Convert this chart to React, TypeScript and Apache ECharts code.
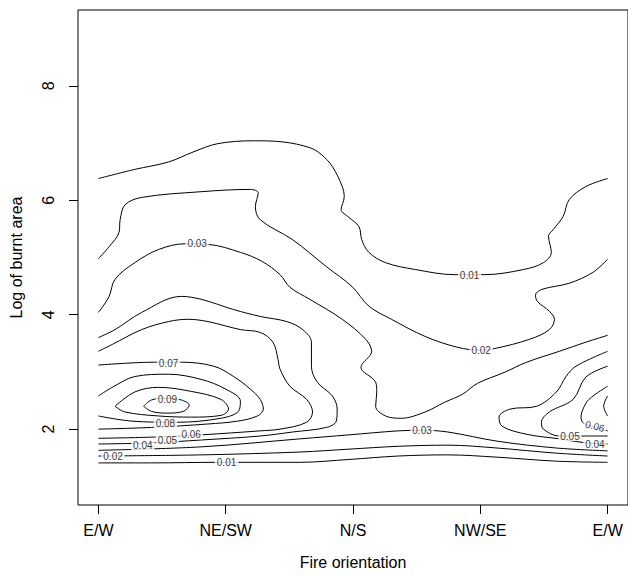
import React, { useEffect, useRef } from "react";
import * as echarts from "echarts";

const orientationTicks = [0, 45, 90, 135, 180];
const orientationLabels = ["E/W", "NE/SW", "N/S", "NW/SE", "E/W"];
const logAreaTicks = [2, 4, 6, 8];

// contour lines: [orientation (deg), log of burnt area]
const c01Upper = [[0,6.38],[12.9,6.54],[24.8,6.67],[33.8,6.85],[42.2,6.99],[54.8,7.04],[65.2,7.02],[74.7,6.92],[78.8,6.8],[82.7,6.59],[86.2,6.24],[86.9,6.06],[85.8,5.84],[88.6,5.7],[92.1,5.54],[93.1,5.31],[95.6,5.09],[101.5,4.91],[112,4.79],[125.9,4.7],[136.4,4.7],[150.3,4.79],[157.3,4.91],[160.1,5.09],[159.1,5.37],[160.8,5.49],[164.3,5.72],[166.4,6.01],[172.3,6.24],[180,6.38]];
const c02Upper = [[0,4.98],[3.8,5.19],[7.3,5.44],[7.7,5.66],[9.4,5.92],[15.3,6.05],[36.3,6.15],[53.7,6.19],[56.5,6.13],[55.5,5.89],[57.2,5.66],[68.7,5.31],[80.6,4.84],[89.7,4.49],[95.6,4.15],[103.6,3.92],[115.5,3.62],[127,3.43],[135,3.38],[140.2,3.41],[152.4,3.57],[159.4,3.74],[161.2,3.92],[159.4,4.06],[155.2,4.23],[154.5,4.34],[156.6,4.44],[166.4,4.55],[174.8,4.74],[180,4.97]];
const c03Upper = [[0,4.04],[1.4,4.13],[3.8,4.32],[5.9,4.62],[12.9,4.91],[21.3,5.14],[30.7,5.24],[38.7,5.23],[50.2,5.09],[57.9,4.93],[64.2,4.7],[67.7,4.48],[74.7,4.27],[86.2,3.92],[94.5,3.57],[96.6,3.36],[92.8,3.08],[98,2.82],[98.4,2.65],[98,2.4],[101.5,2.23],[107.1,2.19],[115.5,2.3],[122.4,2.47],[128.7,2.61],[134,2.8],[143.4,2.99],[151.4,3.17],[162.9,3.36],[172.3,3.52],[180,3.64]];
const lineB = [[0,3.6],[5.9,3.74],[15.3,4.04],[29.3,4.32],[36.3,4.27],[47.8,4.09],[57.2,3.97],[66.6,3.88],[72.2,3.74],[75.3,3.52],[75.3,3.1],[77.4,2.82],[82.7,2.58],[84.4,2.35],[84.1,2.14],[80.6,2.03],[68.7,1.95],[57.2,1.88],[36.3,1.81],[18.8,1.76],[0,1.74]];
const lineC = [[0,3.36],[4.9,3.48],[15.3,3.74],[24.8,3.88],[31.7,3.92],[38.7,3.88],[50.2,3.74],[57.2,3.69],[61.7,3.52],[63.5,3.22],[64.2,3.05],[67.7,2.75],[73.6,2.52],[75.7,2.3],[73.6,2.12],[64.2,2.0],[57.2,1.97],[36.3,1.9],[18.8,1.86],[0,1.84]];
const lineD = [[0,3.12],[19.9,3.17],[29.3,3.17],[40.8,3.1],[47.8,2.92],[53.7,2.7],[57.2,2.52],[58.3,2.35],[56.2,2.23],[49.2,2.14],[38.7,2.09],[18.8,2.03],[0,2.0]];
const lineE = [[0,2.58],[4.9,2.73],[12.9,2.92],[24.8,2.96],[36.3,2.87],[45,2.7],[50.2,2.49],[49.5,2.31],[43.3,2.19],[27.6,2.12],[11.9,2.14],[0,2.23]];
const ovalF = [[5.9,2.4],[12.9,2.65],[21.3,2.73],[32.8,2.66],[43.3,2.52],[46,2.35],[43.3,2.24],[32.8,2.21],[21.3,2.23],[9.4,2.3],[5.9,2.4]];
const oval09 = [[16,2.4],[18.8,2.51],[24.1,2.54],[29.3,2.51],[32.1,2.42],[30,2.31],[24.1,2.28],[18.8,2.31],[16,2.4]];
const c04Right = [[180,3.36],[168.8,3.1],[165.3,2.92],[161.9,2.65],[154.9,2.4],[145.5,2.35],[141.6,2.21],[142.7,2.05],[151.4,1.91],[162.9,1.83],[172.3,1.76],[180,1.74]];
const c05Right = [[180,3.1],[172.3,2.91],[167.8,2.52],[159.4,2.3],[156.6,2.12],[157.3,2.0],[162.9,1.88],[171.3,1.88],[180,1.88]];
const c06Right = [[180,2.75],[173.4,2.52],[171.3,2.35],[170.6,2.21],[171.6,2.1],[180,1.97]];
const c07Right = [[180,2.58],[178.6,2.4],[180,2.23]];
const c01Lower = [[0,1.41],[18.8,1.41],[42.2,1.42],[71.2,1.42],[88.6,1.47],[106,1.53],[123.5,1.55],[140.9,1.51],[161.9,1.44],[180,1.42]];
const c02Lower = [[0,1.53],[36.3,1.55],[71.2,1.6],[88.6,1.65],[106,1.7],[123.5,1.72],[140.9,1.67],[161.9,1.58],[180,1.53]];
const c03Lower = [[0,1.63],[36.3,1.69],[71.2,1.83],[88.6,1.9],[106,1.97],[114.4,1.98],[123.5,1.95],[140.9,1.79],[161.9,1.67],[180,1.62]];

const contourLines = [c01Upper, c02Upper, c03Upper, lineB, lineC, lineD, lineE, ovalF, oval09, c04Right, c05Right, c06Right, c07Right, c01Lower, c02Lower, c03Lower];

// label: [orientation, log area, text, rotation]
const contourLabels: [number, number, string, number][] = [
  [131.2, 4.69, "0.01", 0],
  [135.3, 3.38, "0.02", 0],
  [34.9, 5.24, "0.03", 0],
  [24.8, 3.15, "0.07", 0],
  [24.4, 2.52, "0.09", 0],
  [23.7, 2.1, "0.08", 0],
  [32.8, 1.91, "0.06", 0],
  [24.4, 1.81, "0.05", 0],
  [15.7, 1.72, "0.04", 0],
  [5.2, 1.53, "0.02", 0],
  [45.3, 1.42, "0.01", 0],
  [114.4, 1.98, "0.03", 0],
  [166.7, 1.88, "0.05", 0],
  [175.5, 1.74, "0.04", 0],
  [175.5, 2.05, "0.06", -15],
];

const FONT = "'Liberation Sans', Arial, Helvetica, sans-serif";

export default function App() {
  const ref = useRef<HTMLDivElement>(null);
  useEffect(() => {
    if (!ref.current) return;
    const chart = echarts.init(ref.current, null, { renderer: "svg" });
    const lineSeries = contourLines.map((d) => ({
      type: "line",
      data: d,
      showSymbol: false,
      symbol: "none",
      smooth: 0.35,
      silent: true,
      lineStyle: { color: "#000", width: 1 },
      z: 2,
    }));
    chart.setOption({
      animation: false,
      grid: {
        left: 75.5,
        top: 10,
        width: 557,
        height: 496,
        show: true,
        borderColor: "#000",
        borderWidth: 1,
        backgroundColor: "transparent",
      },
      xAxis: {
        type: "value",
        min: -7.2,
        max: 187.2,
        splitLine: { show: false },
        axisLine: { show: false, onZero: false },
        axisTick: { show: true, customValues: orientationTicks, length: 9, lineStyle: { color: "#000" } },
        axisLabel: {
          customValues: orientationTicks,
          formatter: (v: number) => orientationLabels[orientationTicks.indexOf(v)] ?? "",
          fontSize: 16,
          color: "#000",
          fontFamily: FONT,
          margin: 17,
        },
        name: "Fire orientation",
        nameLocation: "middle",
        nameGap: 49,
        nameTextStyle: { fontSize: 16, color: "#000", fontFamily: FONT },
      },
      yAxis: {
        type: "value",
        min: 0.674,
        max: 9.326,
        splitLine: { show: false },
        axisLine: { show: false, onZero: false },
        axisTick: { show: true, customValues: logAreaTicks, length: 9, lineStyle: { color: "#000" } },
        axisLabel: {
          customValues: logAreaTicks,
          rotate: 90,
          fontSize: 16,
          color: "#000",
          fontFamily: FONT,
          margin: 22,
        },
        name: "Log of burnt area",
        nameLocation: "middle",
        nameGap: 54,
        nameTextStyle: { fontSize: 16, color: "#000", fontFamily: FONT },
      },
      series: [
        ...lineSeries,
        {
          type: "scatter",
          symbolSize: 0,
          silent: true,
          z: 5,
          data: contourLabels.map((l) => ({
            value: [l[0], l[1]],
            label: {
              show: true,
              position: "inside",
              formatter: l[2],
              rotate: l[3],
              fontSize: 10,
              color: "#000",
              fontFamily: FONT,
              backgroundColor: "#fff",
              padding: [0, 2],
            },
          })),
        },
      ],
    });
    return () => chart.dispose();
  }, []);
  return <div ref={ref} style={{ position: "absolute", left: 0, top: 0, width: 628, height: 575 }} />;
}
